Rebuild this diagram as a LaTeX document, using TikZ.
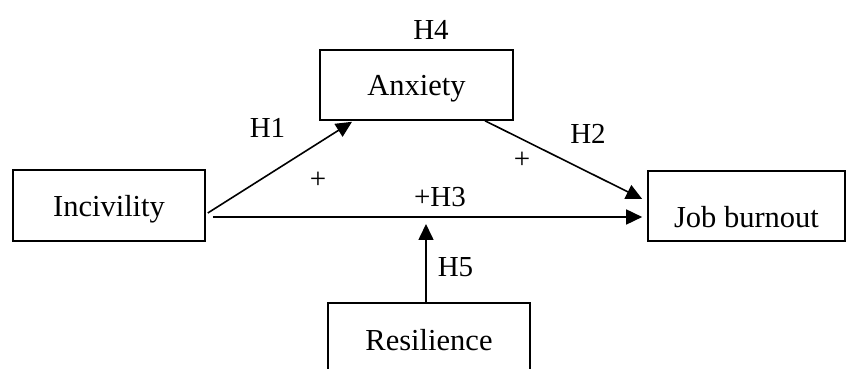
\documentclass[tikz,border=0pt]{standalone}
\usepackage{fontspec}
\setmainfont{Liberation Serif}
\usepackage{tikz}
\usetikzlibrary{arrows.meta,calc}

\begin{document}
\begin{tikzpicture}[x=1pt,y=1pt,
  every node/.style={font=\fontsize{29}{34}\selectfont},
  box/.style={draw,line width=1.6pt,minimum width=193pt,minimum height=70pt,inner sep=0pt,text depth=7pt,font=\fontsize{30.5}{36}\selectfont},
  arr/.style={-{Triangle[length=16pt,width=15pt]},line width=1.6pt}]
  \useasboundingbox (0,0) rectangle (847,369);
  \node[box,minimum width=192pt,minimum height=71pt,text height=30pt] (inc) at (109,163.5) {Incivility};
  \node[box,text height=29pt] (anx) at (416.5,284) {Anxiety};
  \node[box,minimum width=197pt,text height=51pt] (job) at (746.5,163) {Job burnout};
  \node[box,minimum width=202pt,minimum height=74pt,text height=29pt] (res) at (429,29) {Resilience};
  % hypothesis labels
  \node (h4) at (431,339) {H4};
  \node (h1) at (267.5,241) {H1};
  \node (p1) at (318,189) {+};
  \node (h2) at (588,235) {H2};
  \node (p2) at (522,209) {+};
  \node (h3) at (440,172) {+H3};
  \node (h5) at (455.5,102) {H5};
  \coordinate (mod) at (426,145);
  \draw[arr] ($(inc.east)+(2,-7.5)$) -- ($(anx.south)+(-64.5,-1)$);
  \draw[arr] ($(anx.south)+(68.5,0)$) -- ($(job.west)+(-5,7)$);
  \draw[arr] ($(inc.east)+(7,-11.5)$) -- ($(job.west)+(-5,-11)$);
  \draw[arr] ($(res.north)+(-3,0)$) -- (mod);
\end{tikzpicture}
\end{document}
